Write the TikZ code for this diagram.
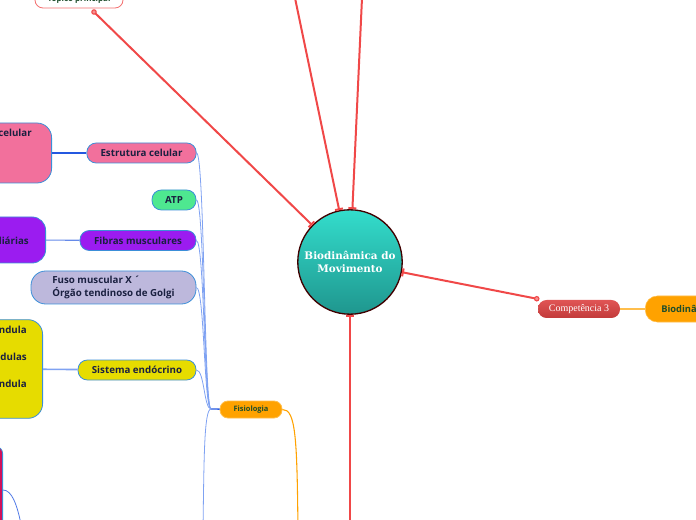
\documentclass[tikz,border=0pt]{standalone}
\usepackage{fontspec}
\setmainfont{Open Sans}
\newfontfamily\rootfont{DejaVu Serif}
\newfontfamily\labelserif{Liberation Serif}
\usetikzlibrary{arrows.meta,positioning,calc}

\definecolor{linkred}{HTML}{F04848}
\definecolor{boxblue}{HTML}{3B8FD8}
\definecolor{branchblue}{HTML}{7FA2F2}
\definecolor{stemblue}{HTML}{2458E0}
\definecolor{navytext}{HTML}{1A2040}
\definecolor{greentext}{HTML}{1E4D2B}
\definecolor{pinkfill}{HTML}{F2709C}
\definecolor{purplefill}{HTML}{9B1CF0}
\definecolor{atpgreen}{HTML}{4EE890}
\definecolor{lavender}{HTML}{BDB8DC}
\definecolor{yellowfill}{HTML}{E6DC00}
\definecolor{orangefill}{HTML}{FFA200}
\definecolor{crimson}{HTML}{D0105A}
\definecolor{rootTop}{HTML}{33DDCC}
\definecolor{rootBottom}{HTML}{1F968E}
\definecolor{compTop}{HTML}{E05555}
\definecolor{compBottom}{HTML}{C23A3A}

\begin{document}
\begin{tikzpicture}[
  x=0.75pt,y=-0.75pt,
  link/.style={linkred,line width=1.5pt},
  bartip/.style={-{Bar[width=6pt,line width=1.5pt]}},
  branch/.style={branchblue,line width=0.6pt},
  topic/.style={draw=boxblue,line width=0.6pt,rounded corners=7pt,
    minimum height=15pt,inner sep=0pt,
    font=\bfseries\fontsize{7.3}{9.3}\selectfont,text=navytext},
  side/.style={draw=boxblue,line width=0.6pt,rounded corners=11pt,
    inner sep=0pt,anchor=east},
  cut/.style={font=\bfseries\fontsize{7.3}{8}\selectfont,text=navytext,
    anchor=east,inner sep=0pt}
]
  \useasboundingbox (0,0) rectangle (696,520);
  \clip (0,0) rectangle (696,520);

  % central topic
  \node[circle,draw=black!75!red,line width=1pt,minimum size=78pt,
    top color=rootTop,bottom color=rootBottom,
    text=white,align=center,font=\rootfont\bfseries\fontsize{7.8}{10}\selectfont]
    (root) at (350,262) {Biodinâmica do\\ Movimento};

  % red links into the centre
  \coordinate (upA) at (295,-2);
  \coordinate (upB) at (362,-2);
  \coordinate (downA) at (350,524);
  \coordinate (topicdot) at (94,12);

  \node[draw=linkred!80,fill=white,line width=0.6pt,rounded corners=6pt,
    minimum width=66pt,minimum height=13.5pt,inner sep=0pt,
    font=\bfseries\fontsize{6}{7}\selectfont,text=greentext]
    (topic) at (79,-1) {Tópico principal};

  \node[rounded corners=6.5pt,minimum width=61.5pt,minimum height=13.5pt,
    inner sep=0pt,top color=compTop,bottom color=compBottom,
    text=white,font=\labelserif\fontsize{7.5}{9}\selectfont]
    (comp) at (579,309) {Competência 3};

  \node[fill=orangefill,draw=orangefill!70!white,rounded corners=9pt,
    minimum width=60pt,minimum height=19.5pt,inner ysep=0pt,inner xsep=12pt,
    anchor=west,font=\bfseries\fontsize{7}{8}\selectfont,text=greentext]
    (bio) at (645,309) {Biodinâmica};

  \draw[link,bartip] (upA) -- (root);
  \draw[link,bartip] (upB) -- (root);
  \draw[link,bartip] (downA) -- (root);
  \draw[link,bartip] (topicdot) -- (root);
  \draw[link,bartip] ([shift={(-1,-1)}]comp.north west) -- (root);
  \draw[linkred,line width=0.8pt,fill=linkred!60] (topicdot) circle (2.2);
  \draw[linkred,line width=0.8pt,fill=linkred!60] ([shift={(-1,-1)}]comp.north west) circle (2.2);
  \draw[orangefill!70!white,line width=0.8pt] (comp) -- (bio);

  % Fisiologia and its children
  \node[topic,fill=orangefill,draw=orangefill!70!white,minimum width=46.5pt,
    minimum height=12.75pt,rounded corners=6pt,text=greentext,
    font=\bfseries\fontsize{5.6}{7}\selectfont] (fisio) at (251,409.5) {Fisiologia};

  \node[topic,fill=pinkfill,minimum width=82pt] (estrutura) at (141.5,153) {Estrutura celular};
  \node[topic,fill=atpgreen,minimum width=33pt] (atp) at (174,200) {ATP};
  \node[topic,fill=purplefill,minimum width=87pt] (fibras) at (138,240.5) {Fibras musculares};
  \node[topic,fill=lavender,minimum width=123.75pt,minimum height=24.75pt,
    rounded corners=11pt,align=left] (fuso) at (113.5,287.5)
    {Fuso muscular X ´\\Órgão tendinoso de Golgi};
  \node[topic,fill=yellowfill,minimum width=88.5pt] (sistema) at (137,370) {Sistema endócrino};

  \coordinate (junction) at (211,409);
  \coordinate (lowbranch) at (203,530);
  \draw[stemblue,line width=1pt] (fisio) -- (junction);
  \foreach \child in {estrutura,atp,fibras,fuso,sistema}
    \draw[branch] (junction) .. controls (204,409) and ($(\child.east)+(8,0)$) .. (\child.east);
  \draw[branch] (junction) .. controls (204,409) and (204,460) .. (lowbranch);

  \coordinate (orangeend) at (298,530);
  \draw[orangefill,line width=0.8pt] (fisio.east) .. controls (296,409) and (297,440) .. (orangeend);

  % grandchildren cut by the left edge
  \node[side,fill=pinkfill,minimum width=60pt,minimum height=45pt] (cellbox) at (52,153) {};
  \node[side,fill=purplefill,minimum width=55pt,minimum height=34.5pt,rounded corners=10pt] (dailybox) at (46,240) {};
  \node[side,fill=yellowfill,minimum width=52pt,minimum height=74pt] (glandbox) at (43,369) {};
  \node[side,fill=crimson,minimum width=40pt,minimum height=80pt,rounded corners=5pt] (redbox) at (3,500) {};

  \node[cut] at (32,133) {celular};
  \node[cut] at (29,241) {diárias};
  \node[cut] at (27,330) {ndula};
  \node[cut] at (27,357) {dulas};
  \node[cut] at (27,384) {ndula};

  \draw[stemblue,line width=0.8pt] (cellbox) -- (estrutura);
  \draw[stemblue!70!white,line width=0.8pt] (dailybox) -- (fibras);
  \draw[branchblue,line width=1.2pt] (glandbox) -- (sistema);
  \coordinate (redlow) at (21,524);
  \draw[stemblue!80!white,line width=0.6pt] ([yshift=7.5pt]redbox.east) .. controls (12,490) and (17,505) .. (redlow);
\end{tikzpicture}
\end{document}
